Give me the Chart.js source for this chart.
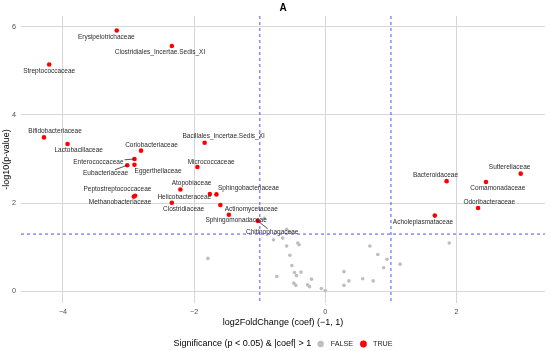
<!DOCTYPE html>
<html>
<head>
<meta charset="utf-8">
<script src="https://cdn.jsdelivr.net/npm/chart.js@4.4.0/dist/chart.umd.min.js"></script>
<style>
  html, body { margin: 0; padding: 0; background: #fff; }
  #wrap { width: 550px; height: 351px; }
</style>
</head>
<body>
<div id="wrap"><canvas id="volcano" width="550" height="351"></canvas></div>
<script>
// significant families (p < 0.05 and |coef| > 1)
const sigNames = [
  "Streptococcaceae", "Erysipelotrichaceae", "Clostridiales_Incertae.Sedis_XI",
  "Bifidobacteriaceae", "Lactobacillaceae", "Coriobacteriaceae", "Enterococcaceae",
  "Eubacteriaceae", "Eggerthellaceae", "Bacillales_Incertae.Sedis_XI", "Micrococcaceae",
  "Atopobiaceae", "Peptostreptococcaceae", "Methanobacteriaceae", "Helicobacteraceae",
  "Sphingobacteriaceae", "Clostridiaceae", "Actinomycetaceae", "Sphingomonadaceae",
  "Chitinophagaceae", "Acholeplasmataceae", "Bacteroidaceae", "Odoribacteraceae",
  "Comamonadaceae", "Sutterellaceae"
];
const sigCoef = [-4.21, -3.18, -2.34, -4.29, -3.93, -2.81, -2.91, -3.02, -2.91, -1.84, -1.95,
  -2.21, -2.90, -2.92, -1.76, -1.66, -2.34, -1.60, -1.47, -1.03, 1.67, 1.85, 2.33, 2.45, 2.98];
const sigLogP = [5.14, 5.91, 5.56, 3.49, 3.34, 3.19, 3.00, 2.86, 2.87, 3.37, 2.82,
  2.31, 2.17, 2.15, 2.21, 2.20, 2.01, 1.96, 1.74, 1.60, 1.72, 2.50, 1.89, 2.48, 2.67];

// where the repelled labels ended up (data units)
const labelCoef = [-4.21, -3.34, -2.52, -4.12, -3.76, -2.65, -3.46, -3.35, -2.55, -1.55, -1.74,
  -2.04, -3.17, -3.13, -2.15, -1.17, -2.16, -1.13, -1.36, -0.81, 1.49, 1.68, 2.50, 2.63, 2.81];
const labelLogP = [5.00, 5.77, 5.41, 3.62, 3.19, 3.32, 2.94, 2.68, 2.72, 3.52, 2.94,
  2.45, 2.31, 2.02, 2.14, 2.33, 1.87, 1.87, 1.61, 1.34, 1.58, 2.64, 2.03, 2.33, 2.81];
const segmentNames = ["Enterococcaceae", "Eubacteriaceae", "Chitinophagaceae"];

// the rest
const nsCoef = [-1.79, -0.93, -0.59, -0.53, -0.79, -0.65, -0.59, -0.42, -0.40, -0.54, -0.51,
  -0.47, -0.44, -0.74, -0.37, -0.21, -0.48, -0.45, -0.27, -0.24, -0.06, 0.00, 0.285, 0.285,
  0.36, 0.57, 0.73, 0.68, 0.80, 0.94, 0.89, 1.14, 1.89];
const nsLogP = [0.75, 1.66, 1.41, 1.34, 1.17, 1.21, 1.03, 1.10, 1.06, 0.82, 0.59,
  0.43, 0.36, 0.34, 0.44, 0.28, 0.19, 0.14, 0.15, 0.11, 0.07, 0.02, 0.45, 0.14,
  0.24, 0.29, 0.24, 1.03, 0.84, 0.73, 0.54, 0.62, 1.10];

const coefCut = [-1, 1];
const pCut = -Math.log10(0.05);

const xTicks = [-4, -2, 0, 2];
const xTickLabels = ["\u22124", "\u22122", "0", "2"];
const yTicks = [0, 2, 4, 6];
const yTickLabels = ["0", "2", "4", "6"];

const FONT = "'Liberation Sans', Arial, sans-serif";
const GRID = "#d6d6d6";
const TICK = "#4d4d4d";

const cutLines = {
  id: "cutLines",
  beforeDatasetsDraw(chart) {
    const { ctx, chartArea: a, scales: { x, y } } = chart;
    ctx.save();
    ctx.strokeStyle = "rgba(60,60,255,0.6)";
    ctx.lineWidth = 1.5;
    ctx.setLineDash([3, 3]);
    coefCut.forEach(c => {
      const px = x.getPixelForValue(c);
      ctx.beginPath();
      ctx.moveTo(px, a.top);
      ctx.lineTo(px, a.bottom);
      ctx.stroke();
    });
    const py = y.getPixelForValue(pCut);
    ctx.beginPath();
    ctx.moveTo(a.left, py);
    ctx.lineTo(a.right, py);
    ctx.stroke();
    ctx.restore();
  }
};

const repelLabels = {
  id: "repelLabels",
  afterDatasetsDraw(chart) {
    const { ctx, scales: { x, y } } = chart;
    ctx.save();
    ctx.font = "6.5px " + FONT;
    ctx.fillStyle = "#2a2a2a";
    ctx.strokeStyle = "#2a2a2a";
    ctx.lineWidth = 0.8;
    ctx.textAlign = "center";
    ctx.textBaseline = "middle";
    sigNames.forEach((name, i) => {
      const lx = x.getPixelForValue(labelCoef[i]);
      const ly = y.getPixelForValue(labelLogP[i]);
      if (segmentNames.includes(name)) {
        const px = x.getPixelForValue(sigCoef[i]);
        const py = y.getPixelForValue(sigLogP[i]);
        const hw = ctx.measureText(name).width / 2 + 1;
        const hh = 3.5;
        const dx = lx - px, dy = ly - py;
        // stop the segment where it enters the label box
        const tx = Math.abs(dx) > hw ? (Math.abs(dx) - hw) / Math.abs(dx) : 0;
        const ty = Math.abs(dy) > hh ? (Math.abs(dy) - hh) / Math.abs(dy) : 0;
        const t = Math.max(tx, ty);
        ctx.beginPath();
        ctx.moveTo(px, py);
        ctx.lineTo(px + dx * t, py + dy * t);
        ctx.stroke();
      }
      ctx.fillText(name, lx, ly);
    });
    ctx.restore();
  }
};

const extras = {
  id: "extras",
  afterDraw(chart) {
    const { ctx, chartArea: a } = chart;
    ctx.save();
    // panel title
    ctx.fillStyle = "#000";
    ctx.font = "bold 10px " + FONT;
    ctx.textAlign = "center";
    ctx.textBaseline = "middle";
    ctx.fillText("A", (a.left + a.right) / 2, 8.5);

    // legend
    const ly = 344;
    ctx.textAlign = "left";
    const title = "Significance (p < 0.05) & |coef| > 1";
    ctx.font = "7.2px " + FONT;
    const wF = ctx.measureText("FALSE").width;
    const wT = ctx.measureText("TRUE").width;
    ctx.font = "9px " + FONT;
    const wTitle = ctx.measureText(title).width;
    const total = wTitle + 9.5 + 10 + wF + 10.4 + 9.6 + wT;
    let cx = (a.left + a.right) / 2 - total / 2;
    ctx.fillStyle = "#000";
    ctx.fillText(title, cx, ly);
    cx += wTitle + 9.5;
    ctx.fillStyle = "#bebebe";
    ctx.beginPath(); ctx.arc(cx, ly, 3.2, 0, Math.PI * 2); ctx.fill();
    ctx.font = "7.2px " + FONT;
    ctx.fillStyle = "#1a1a1a";
    ctx.fillText("FALSE", cx + 10, ly);
    cx += 10 + wF + 10.4;
    ctx.fillStyle = "#ff0000";
    ctx.beginPath(); ctx.arc(cx, ly, 3.4, 0, Math.PI * 2); ctx.fill();
    ctx.fillStyle = "#1a1a1a";
    ctx.fillText("TRUE", cx + 9.6, ly);
    ctx.restore();
  }
};

new Chart(document.getElementById("volcano"), {
  type: "scatter",
  data: {
    datasets: [
      {
        label: "FALSE",
        data: nsCoef.map((c, i) => ({ x: c, y: nsLogP[i] })),
        backgroundColor: "#bebebe",
        borderWidth: 0,
        pointRadius: 1.8
      },
      {
        label: "TRUE",
        data: sigCoef.map((c, i) => ({ x: c, y: sigLogP[i] })),
        backgroundColor: "#ff0000",
        borderWidth: 0,
        pointRadius: 2.3
      }
    ]
  },
  options: {
    responsive: false,
    devicePixelRatio: 1,
    animation: false,
    layout: { padding: { top: 16, right: 5, bottom: 0, left: 0 } },
    plugins: {
      legend: { display: false },
      tooltip: { enabled: false }
    },
    scales: {
      x: {
        type: "linear",
        min: -4.64,
        max: 3.35,
        afterBuildTicks: s => { s.ticks = xTicks.map(v => ({ value: v })); },
        afterFit: s => { s.height = 48; },
        ticks: {
          callback: (v, i) => xTickLabels[i],
          color: TICK,
          font: { family: FONT, size: 7.2 },
          padding: 5,
          maxRotation: 0
        },
        grid: { color: GRID, lineWidth: 1, drawTicks: false },
        border: { display: false },
        title: {
          display: true,
          text: "log2FoldChange (coef) (\u22121, 1)",
          color: "#000",
          font: { family: FONT, size: 9 },
          padding: { top: 0, bottom: 23 }
        }
      },
      y: {
        type: "linear",
        min: -0.26,
        max: 6.24,
        afterBuildTicks: s => { s.ticks = yTicks.map(v => ({ value: v })); },
        afterFit: s => { s.width = 21; },
        ticks: {
          callback: (v, i) => yTickLabels[i],
          color: TICK,
          font: { family: FONT, size: 7.2 },
          padding: 5
        },
        grid: { color: GRID, lineWidth: 1, drawTicks: false },
        border: { display: false },
        title: {
          display: true,
          text: "-log10(p-value)",
          color: "#000",
          font: { family: FONT, size: 9 },
          padding: { top: 1, bottom: 0 }
        }
      }
    }
  },
  plugins: [cutLines, repelLabels, extras]
});
</script>
</body>
</html>
